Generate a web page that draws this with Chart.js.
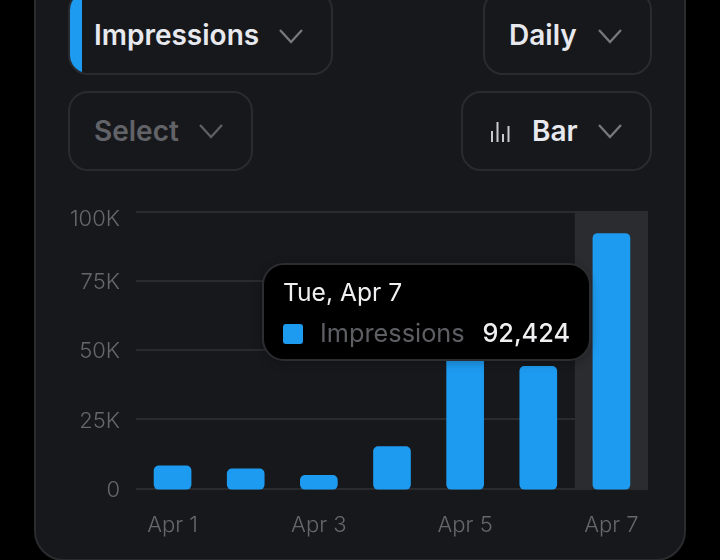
<!DOCTYPE html>
<html>
<head>
<meta charset="utf-8">
<script src="https://cdn.jsdelivr.net/npm/chart.js@4"></script>
<style>
  html, body { margin: 0; padding: 0; background: #000; }
  body { width: 720px; height: 560px; overflow: hidden; position: relative; font-family: Inter, sans-serif; }
  .card { position: absolute; left: 34px; top: -40px; width: 648px; height: 597px; background: #17181c; border: 2px solid #2a2b2f; border-radius: 30px; }
  .drop { position: absolute; box-sizing: border-box; border: 2px solid #2a2b30; border-radius: 20px; overflow: hidden; font-size: 28px; font-weight: 600; color: #e8e9ee; }
  .drop span { position: absolute; line-height: 34px; white-space: nowrap; }
  .drop svg { position: absolute; fill: none; stroke: #77787c; stroke-width: 2.3; }
  .strip { position: absolute; left: 0; top: 0; bottom: 0; width: 12px; background: #1d9bf0; }
  #chartBox { position: absolute; left: 36px; top: 183px; width: 620px; height: 367px; }
  #tip { position: absolute; left: 262px; top: 263px; width: 329px; height: 98px; box-sizing: border-box; background: #000; border: 2px solid #2c2d30; border-radius: 22px; box-shadow: 0 2px 10px rgba(0,0,0,.25); color: #f0f0f2; }
  #tipTitle { position: absolute; left: 19px; top: 11px; font-size: 24.6px; line-height: 32px; font-weight: 400; white-space: nowrap; }
  #tipSwatch { position: absolute; left: 19px; top: 59px; width: 20px; height: 20px; border-radius: 3px; background: #1d9bf0; }
  #tipLabel { position: absolute; left: 56px; top: 52px; font-size: 25.3px; line-height: 32px; color: #5e5f64; font-weight: 400; white-space: nowrap; }
  #tipValue { position: absolute; right: 19px; top: 52px; font-size: 25.3px; line-height: 32px; font-weight: 500; white-space: nowrap; }
</style>
</head>
<body>
<div class="card"></div>

<div class="drop" style="left:68px;top:-10px;width:265px;height:85px">
  <div class="strip"></div>
  <span style="left:24px;top:26px">Impressions</span>
  <svg style="left:208px;top:36px" width="26" height="18"><path d="M2 2 L13 14 L24 2"/></svg>
</div>
<div class="drop" style="left:483px;top:-10px;width:169px;height:85px">
  <span style="left:24px;top:26px">Daily</span>
  <svg style="left:112px;top:36px" width="26" height="18"><path d="M2 2 L13 14 L24 2"/></svg>
</div>
<div class="drop" style="left:68px;top:91px;width:185px;height:80px;color:#626368">
  <span style="left:24px;top:21px">Select</span>
  <svg style="left:128px;top:30px;stroke:#5e5f63" width="26" height="18"><path d="M2 2 L13 14 L24 2"/></svg>
</div>
<div class="drop" style="left:461px;top:91px;width:191px;height:80px">
  <svg style="left:26px;top:27px;stroke:#c9cace;stroke-width:2" width="22" height="24"><path d="M3 22 V11 M8.500 22 V2 M14 22 V14 M19.500 22 V6"/></svg>
  <span style="left:69px;top:21px">Bar</span>
  <svg style="left:134px;top:30px" width="26" height="18"><path d="M2 2 L13 14 L24 2"/></svg>
</div>

<div id="chartBox"><canvas id="chart"></canvas></div>

<div id="tip">
  <div id="tipTitle"></div>
  <div id="tipSwatch"></div>
  <div id="tipLabel"></div>
  <div id="tipValue"></div>
</div>

<script>
const categories = ['Apr 1', 'Apr 2', 'Apr 3', 'Apr 4', 'Apr 5', 'Apr 6', 'Apr 7'];
const weekdays = ['Wed', 'Thu', 'Fri', 'Sat', 'Sun', 'Mon', 'Tue'];
const impressions = [8300, 7200, 4900, 15300, 56000, 44300, 92424];
const yTicks = [0, 25000, 50000, 75000, 100000];
const activeIndex = 6;

// Grey column behind the hovered bar
const hoverColumn = {
    id: 'hoverColumn',
    beforeDatasetsDraw(chart) {
        const { ctx, chartArea, scales } = chart;
        const step = scales.x.getPixelForValue(1) - scales.x.getPixelForValue(0);
        const center = scales.x.getPixelForValue(activeIndex);
        ctx.save();
        ctx.fillStyle = '#2b2c30';
        ctx.fillRect(center - step / 2, chartArea.top, step, chartArea.bottom - chartArea.top);
        ctx.restore();
    },
};

// Tick labels sit just under their grid line, the top one a bit more
const nudgeLabels = {
    id: 'nudgeLabels',
    afterUpdate(chart) {
        const items = chart.scales.y.getLabelItems();
        items.forEach((item, i) => {
            item.options.translation[1] += i === items.length - 1 ? 7 : 1.5;
        });
    },
};

const renderTip = function (context) {
    const tooltip = context.tooltip;
    if (!tooltip.dataPoints || !tooltip.dataPoints.length) return;
    const point = tooltip.dataPoints[0];
    document.getElementById('tipTitle').textContent = tooltip.title[0];
    document.getElementById('tipLabel').textContent = point.dataset.label;
    document.getElementById('tipValue').textContent = point.raw.toLocaleString('en-US');
};

const chart = new Chart(document.getElementById('chart'), {
    type: 'bar',
    data: {
        labels: categories,
        datasets: [
            {
                label: 'Impressions',
                data: impressions,
                backgroundColor: '#1d9bf0',
                hoverBackgroundColor: '#1d9bf0',
                borderRadius: 5,
                borderSkipped: false,
                categoryPercentage: 1,
                barPercentage: 0.515,
                base: -400,
                clip: 4,
            },
        ],
    },
    plugins: [hoverColumn, nudgeLabels],
    options: {
        responsive: true,
        maintainAspectRatio: false,
        animation: false,
        events: [],
        layout: { padding: { top: 12, right: 8, left: 0, bottom: 0 } },
        plugins: {
            legend: { display: false },
            tooltip: {
                enabled: false,
                external: renderTip,
                callbacks: {
                    title: (items) =>
                        `${weekdays[items[0].dataIndex]}, ${categories[items[0].dataIndex]}`,
                },
            },
        },
        scales: {
            x: {
                grid: { display: false },
                border: { display: false },
                afterFit: (scale) => { scale.height = 61.5; },
                ticks: {
                    autoSkip: false,
                    maxRotation: 0,
                    padding: 16,
                    color: '#66676c',
                    font: { family: 'Inter', size: 22, weight: 300 },
                    callback: function (value, index) {
                        return index % 2 === 0 ? categories[index] : '';
                    },
                },
            },
            y: {
                min: 0,
                max: 100000,
                afterBuildTicks: (scale) => {
                    scale.ticks = yTicks.map((value) => ({ value }));
                },
                afterFit: (scale) => { scale.width = 100; },
                grid: { color: '#2a2b2f', lineWidth: 2, drawTicks: false },
                border: { display: false },
                ticks: {
                    padding: 16,
                    color: '#66676c',
                    font: { family: 'Inter', size: 22, weight: 300 },
                    callback: (value) => (value === 0 ? '0' : `${value / 1000}K`),
                },
            },
        },
    },
});

chart.setActiveElements([{ datasetIndex: 0, index: activeIndex }]);
chart.tooltip.setActiveElements([{ datasetIndex: 0, index: activeIndex }], { x: 0, y: 0 });
chart.update();
</script>
</body>
</html>
